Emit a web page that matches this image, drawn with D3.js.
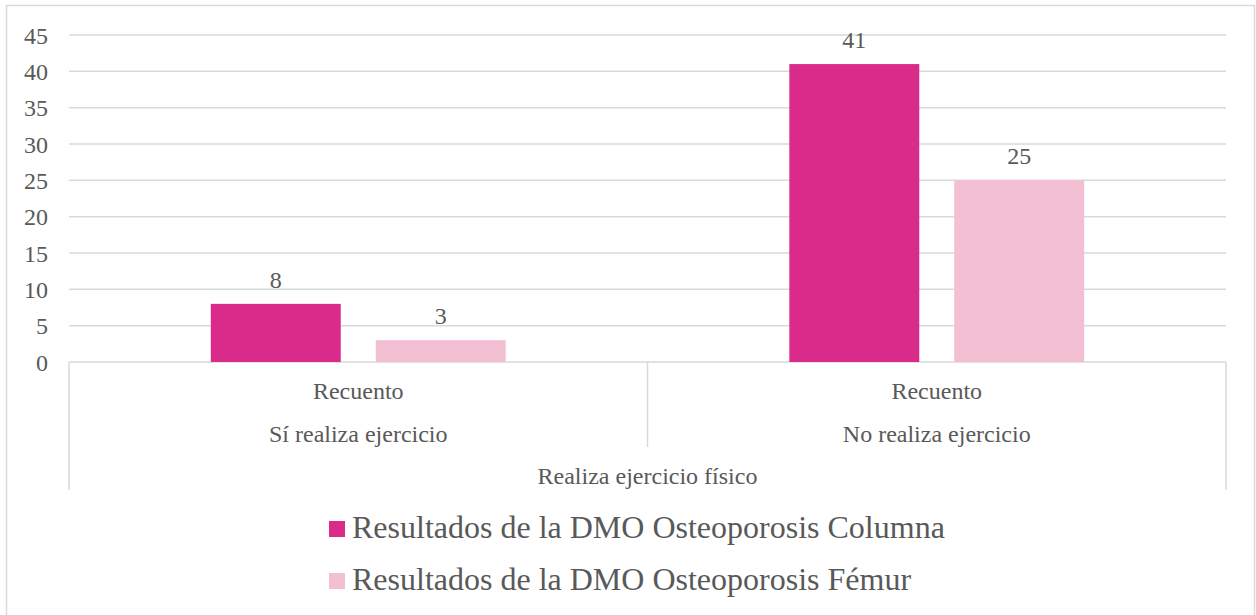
<!DOCTYPE html>
<html>
<head>
<meta charset="utf-8">
<script src="https://cdnjs.cloudflare.com/ajax/libs/d3/7.8.5/d3.min.js"></script>
<style>
  body { margin: 0; background: #fff; }
  #chart { position: relative; width: 1256px; height: 615px; }
  #chart svg { position: absolute; left: 0; top: 0; }
  .lbl {
    position: absolute;
    font-family: "Liberation Serif", "Times New Roman", serif;
    color: #595959;
    line-height: 1;
    white-space: nowrap;
  }
</style>
</head>
<body>
<div id="chart"></div>
<script>
// Data
const categories = ["Sí realiza ejercicio", "No realiza ejercicio"];
const subLabel = "Recuento";
const groupTitle = "Realiza ejercicio físico";
const series = ["Resultados de la DMO Osteoporosis Columna", "Resultados de la DMO Osteoporosis Fémur"];
const columna = [8, 41];
const femur = [3, 25];
const yTicks = [0, 5, 10, 15, 20, 25, 30, 35, 40, 45];
const colors = ["#DA2B8A", "#F3BFD3"];

const width = 1256, height = 615;
const margin = { left: 69, right: 30, top: 35, plotBottom: 362 };
const gridColor = "#d9d9d9";

const chart = d3.select("#chart");
const svg = chart.append("svg")
    .attr("width", width)
    .attr("height", height);

// Text helper: place an HTML label by its baseline
function label(txt, x, baseline, size, anchor) {
    const shift = anchor === "middle" ? "-50%" : anchor === "end" ? "-100%" : "0";
    return chart.append("div")
        .attr("class", "lbl")
        .style("font-size", size + "px")
        .style("left", x + "px")
        .style("top", (baseline - 0.80 * size) + "px")
        .style("transform", `translateX(${shift})`)
        .text(txt);
}

// Outer frame
svg.append("rect")
    .attr("x", 6.5).attr("y", 5.5)
    .attr("width", 1248).attr("height", 620)
    .attr("fill", "none").attr("stroke", gridColor).attr("stroke-width", 1.5);

const x0 = d3.scaleBand()
    .domain(categories)
    .range([margin.left, width - margin.right]);

const x1 = d3.scaleBand()
    .domain(series)
    .range([0, x0.bandwidth()])
    .paddingInner(0.212)
    .paddingOuter(0.86);

const y = d3.scaleLinear()
    .domain([0, 45])
    .range([margin.plotBottom, margin.top]);

// Gridlines
svg.append("g")
    .selectAll("line")
    .data(yTicks)
    .join("line")
    .attr("x1", margin.left).attr("x2", width - margin.right)
    .attr("y1", d => y(d)).attr("y2", d => y(d))
    .attr("stroke", gridColor).attr("stroke-width", 1.5);

// Y tick labels
yTicks.forEach(t => label(t, 48, y(t) + 8, 24, "end"));

// Bars
const rows = categories.map((c, i) => ({ cat: c, values: [columna[i], femur[i]] }));

const groups = svg.append("g")
    .selectAll("g")
    .data(rows)
    .join("g")
    .attr("transform", d => `translate(${x0(d.cat)},0)`);

groups.selectAll("rect")
    .data(d => d.values.map((v, j) => ({ s: series[j], v, j })))
    .join("rect")
    .attr("x", d => x1(d.s))
    .attr("y", d => y(d.v))
    .attr("width", x1.bandwidth())
    .attr("height", d => y(0) - y(d.v))
    .attr("fill", d => colors[d.j]);

// Value labels
rows.forEach(r => {
    r.values.forEach((v, j) => {
        label(v, x0(r.cat) + x1(series[j]) + x1.bandwidth() / 2, y(v) - 17, 24, "middle");
    });
});

// Category axis lines
const xl = margin.left, xr = width - margin.right;
const xm = x0(categories[1]);
svg.append("g")
    .selectAll("line")
    .data([[xl, 490], [xm, 447], [xr, 490]])
    .join("line")
    .attr("x1", d => d[0]).attr("x2", d => d[0])
    .attr("y1", margin.plotBottom).attr("y2", d => d[1])
    .attr("stroke", gridColor).attr("stroke-width", 1.5);

categories.forEach(c => {
    const cx = x0(c) + x0.bandwidth() / 2;
    label(subLabel, cx, 398, 24, "middle");
    label(c, cx, 441, 24, "middle");
});

label(groupTitle, (xl + xr) / 2, 483, 24, "middle");

// Legend
const legendX = 329, legendY = [521, 573];
svg.append("g")
    .selectAll("rect")
    .data(series)
    .join("rect")
    .attr("x", legendX)
    .attr("y", (d, i) => legendY[i])
    .attr("width", 16).attr("height", 16)
    .attr("fill", (d, i) => colors[i]);

series.forEach((s, i) => label(s, legendX + 23, legendY[i] + 16, 32, "start"));
</script>
</body>
</html>
